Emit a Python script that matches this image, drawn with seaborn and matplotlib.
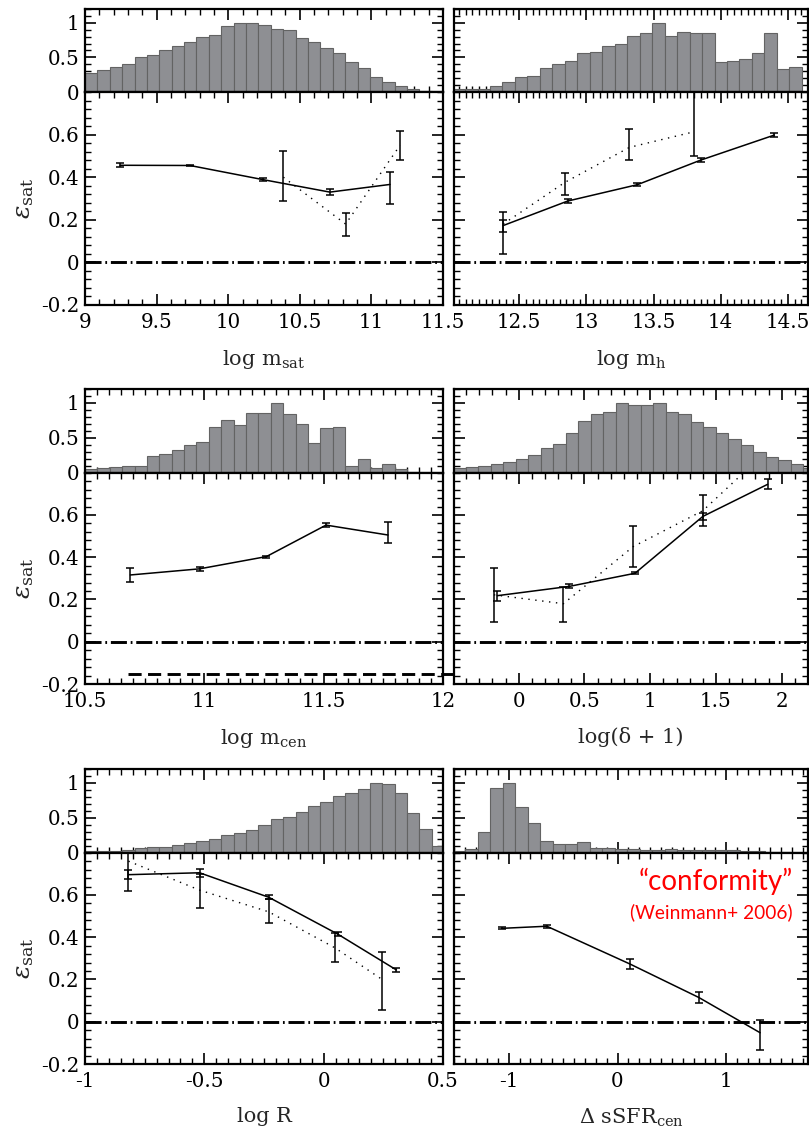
import numpy as np
import pandas as pd
import matplotlib
matplotlib.use('Agg')
import matplotlib.pyplot as plt
from matplotlib.ticker import MultipleLocator, FixedLocator, FuncFormatter
import seaborn as sns

# -------------------------------------------------------------------------
# DATA
# -------------------------------------------------------------------------
# panel 1: log m_sat
msat_bin_start, msat_bin_width = 9.0, 0.0865
msat_hist = [0.275, 0.32, 0.36, 0.40, 0.51, 0.54, 0.60, 0.66, 0.72, 0.79, 0.83, 0.95, 1.0, 1.0,
             0.97, 0.91, 0.89, 0.78, 0.72, 0.64, 0.56, 0.43, 0.35, 0.21, 0.145, 0.08, 0.04, 0.02]
msat_x = [9.245, 9.733, 10.24, 10.71, 11.13]
msat_y = [0.456, 0.455, 0.389, 0.330, 0.366]
msat_lo = [0.446, 0.451, 0.383, 0.315, 0.275]
msat_hi = [0.466, 0.459, 0.395, 0.345, 0.425]
msat_dot_x = [10.385, 10.82, 11.2]
msat_dot_y = [0.40, 0.18, 0.55]
msat_dot_lo = [0.29, 0.125, 0.48]
msat_dot_hi = [0.525, 0.23, 0.615]

# panel 2: log m_h
mh_bin_start, mh_bin_width = 12.003, 0.0929
mh_hist = [0.04, 0.05, 0.05, 0.08, 0.14, 0.22, 0.23, 0.34, 0.41, 0.45, 0.56, 0.58, 0.66, 0.69,
           0.81, 0.86, 1.0, 0.81, 0.87, 0.85, 0.85, 0.44, 0.45, 0.48, 0.57, 0.86, 0.33, 0.36]
mh_x = [12.38, 12.86, 13.38, 13.85, 14.40]
mh_y = [0.173, 0.288, 0.365, 0.48, 0.598]
mh_lo = [0.142, 0.278, 0.357, 0.47, 0.59]
mh_hi = [0.197, 0.298, 0.373, 0.49, 0.606]
mh_dot_x = [12.38, 12.84, 13.32, 13.80]
mh_dot_y = [0.18, 0.376, 0.54, 0.613]
mh_dot_lo = [0.04, 0.315, 0.48, 0.50]
mh_dot_hi = [0.235, 0.42, 0.625, 0.85]

# panel 3: log m_cen
mcen_bin_start, mcen_bin_width = 10.5, 0.0519
mcen_hist = [0.06, 0.07, 0.075, 0.1, 0.1, 0.24, 0.27, 0.32, 0.39, 0.44, 0.65, 0.76, 0.69, 0.85,
             0.86, 1.0, 0.84, 0.70, 0.43, 0.645, 0.66, 0.095, 0.19, 0.07, 0.13, 0.05, 0.01]
mcen_x = [10.69, 10.98, 11.26, 11.51, 11.77]
mcen_y = [0.316, 0.345, 0.403, 0.552, 0.505]
mcen_lo = [0.281, 0.335, 0.398, 0.542, 0.467]
mcen_hi = [0.348, 0.355, 0.408, 0.562, 0.568]
mcen_ref_x = [10.68, 12.1]
mcen_ref_y = [-0.155, -0.155]

# panel 4: log(delta + 1)
dens_bin_start, dens_bin_width = -0.496, 0.095
dens_hist = [0.07, 0.085, 0.1, 0.12, 0.155, 0.2, 0.25, 0.35, 0.41, 0.57, 0.74, 0.84, 0.87, 1.0,
             0.97, 0.97, 1.0, 0.87, 0.84, 0.73, 0.66, 0.57, 0.48, 0.39, 0.29, 0.22, 0.18, 0.12, 0.07]
dens_x = [-0.163, 0.385, 0.884, 1.40, 1.893]
dens_y = [0.218, 0.262, 0.324, 0.593, 0.745]
dens_lo = [0.191, 0.252, 0.319, 0.578, 0.722]
dens_hi = [0.238, 0.272, 0.329, 0.608, 0.768]
dens_dot_x = [-0.189, 0.34, 0.87, 1.40, 1.90]
dens_dot_y = [0.222, 0.18, 0.45, 0.62, 0.91]
dens_dot_lo = [0.095, 0.095, 0.356, 0.548, 0.85]
dens_dot_hi = [0.348, 0.257, 0.548, 0.694, 0.97]

# panel 5: log R
rad_bin_start, rad_bin_width = -1.0, 0.0519
rad_hist = [0.03, 0.03, 0.03, 0.04, 0.066, 0.076, 0.085, 0.11, 0.14, 0.165, 0.19, 0.25, 0.28, 0.32,
            0.40, 0.48, 0.51, 0.59, 0.67, 0.73, 0.81, 0.86, 0.91, 1.0, 0.98, 0.86, 0.57, 0.34, 0.095]
rad_x = [-0.818, -0.52, -0.23, 0.06, 0.305]
rad_y = [0.696, 0.705, 0.589, 0.414, 0.245]
rad_lo = [0.675, 0.685, 0.579, 0.404, 0.235]
rad_hi = [0.717, 0.725, 0.599, 0.424, 0.255]
rad_dot_x = [-0.818, -0.52, -0.23, 0.047, 0.245]
rad_dot_y = [0.76, 0.623, 0.52, 0.35, 0.20]
rad_dot_lo = [0.62, 0.54, 0.465, 0.284, 0.055]
rad_dot_hi = [0.80, 0.70, 0.583, 0.418, 0.331]

# panel 6: Delta sSFR_cen
ssfr_bin_start, ssfr_bin_width = -1.515, 0.1147
ssfr_hist = [0.03, 0.05, 0.29, 0.93, 1.0, 0.66, 0.43, 0.17, 0.12, 0.12, 0.15, 0.07, 0.066, 0.057,
             0.047, 0.038, 0.043, 0.047, 0.033, 0.043, 0.033, 0.038, 0.033, 0.028, 0.02, 0.014, 0.01]
ssfr_x = [-1.064, -0.65, 0.115, 0.746, 1.31]
ssfr_y = [0.442, 0.452, 0.273, 0.115, -0.052]
ssfr_lo = [0.437, 0.444, 0.25, 0.088, -0.134]
ssfr_hi = [0.447, 0.460, 0.297, 0.142, 0.008]

# -------------------------------------------------------------------------
# STYLE
# -------------------------------------------------------------------------
sns.set_style('ticks')
plt.rcParams['font.family'] = ['DejaVu Serif']
plt.rcParams['mathtext.fontset'] = 'dejavuserif'
plt.rcParams['axes.unicode_minus'] = False
plt.rcParams['axes.linewidth'] = 1.6
plt.rcParams['axes.edgecolor'] = 'black'

HIST_FACE = '#8e8f93'
HIST_EDGE = '#636363'
FS = 14.3       # tick labels
FS_LABEL = 15.0  # axis labels

W, H = 809, 1131
fig = plt.figure(figsize=(W / 100, H / 100), dpi=100)


def px_axes(x0, x1, y0, y1):
    return fig.add_axes([x0 / W, 1 - y1 / H, (x1 - x0) / W, (y1 - y0) / H])


def fmt(v, pos):
    if abs(v) < 1e-9:
        return '0'
    return '%g' % round(v, 3)


def style_ticks(a, left_labels):
    a.tick_params(which='both', direction='in', top=True, bottom=True, left=True, right=True,
                  labelsize=FS, colors='black')
    a.tick_params(which='major', length=8, width=1.2, pad=6)
    a.tick_params(which='minor', length=4, width=1.0)
    a.tick_params(axis='y', pad=4, labelleft=left_labels)
    a.xaxis.set_major_formatter(FuncFormatter(fmt))
    a.yaxis.set_major_formatter(FuncFormatter(fmt))


def panel(cols, rows, xlim, xmajor, xminor, bin_start, bin_width, hist,
          x, y, lo, hi, dx=None, dy=None, dlo=None, dhi=None, xlabel='', left=True):
    hax = px_axes(cols[0], cols[1], rows[0], rows[1])
    ax = px_axes(cols[0], cols[1], rows[1], rows[2])

    # normalised histogram on top
    edges = bin_start + bin_width * np.arange(len(hist) + 1)
    hist_df = pd.DataFrame({'center': edges[:-1] + bin_width / 2, 'height': hist})
    sns.histplot(data=hist_df, x='center', weights='height', bins=list(edges), ax=hax,
                 color=HIST_FACE, edgecolor=HIST_EDGE, linewidth=0.8, alpha=1)
    hax.set_xlim(xlim)
    hax.set_ylim(0, 1.2)
    hax.set_xlabel('')
    hax.set_ylabel('')
    hax.xaxis.set_major_locator(MultipleLocator(xmajor))
    hax.xaxis.set_minor_locator(MultipleLocator(xminor))
    hax.yaxis.set_major_locator(FixedLocator([0, 0.5, 1]))
    hax.yaxis.set_minor_locator(MultipleLocator(0.1))
    style_ticks(hax, left)
    hax.tick_params(labelbottom=False)

    # zero reference line
    ax.axhline(0, color='black', lw=2.1, dashes=(5.5, 1.3, 0.6, 1.3), zorder=1)

    x, y, lo, hi = map(np.asarray, (x, y, lo, hi))
    sns.lineplot(x=x, y=y, ax=ax, color='black', lw=1.1, sort=False)
    ax.errorbar(x, y, yerr=[y - lo, hi - y], fmt='none', ecolor='black',
                elinewidth=1.1, capsize=2.8, capthick=1.1)
    if dx is not None:
        dx, dy, dlo, dhi = map(np.asarray, (dx, dy, dlo, dhi))
        sns.lineplot(x=dx, y=dy, ax=ax, color='black', lw=1.0, sort=False,
                     linestyle=(0, (1, 4)))
        ax.errorbar(dx, dy, yerr=[dy - dlo, dhi - dy], fmt='none', ecolor='black',
                    elinewidth=1.1, capsize=2.8, capthick=1.1)

    ax.set_xlim(xlim)
    ax.set_ylim(-0.2, 0.8)
    ax.xaxis.set_major_locator(MultipleLocator(xmajor))
    ax.xaxis.set_minor_locator(MultipleLocator(xminor))
    ax.yaxis.set_major_locator(FixedLocator([-0.2, 0, 0.2, 0.4, 0.6]))
    ax.yaxis.set_minor_locator(MultipleLocator(0.04))
    style_ticks(ax, left)
    ax.set_xlabel(xlabel, fontsize=FS_LABEL, labelpad=11)
    ax.set_ylabel(r'$\varepsilon_{\rm sat}$' if left else '', fontsize=18, labelpad=4)
    return hax, ax


LEFT = (85, 443)
RIGHT = (454.3, 808)
ROW1 = (9, 92, 305)
ROW2 = (389, 472.7, 684)
ROW3 = (769, 852.7, 1064)

panel(LEFT, ROW1, (9, 11.5), 0.5, 0.1, msat_bin_start, msat_bin_width, msat_hist,
      msat_x, msat_y, msat_lo, msat_hi, msat_dot_x, msat_dot_y, msat_dot_lo, msat_dot_hi,
      xlabel=r'log m$_{\rm sat}$', left=True)

panel(RIGHT, ROW1, (12.016, 14.65), 0.5, 0.05, mh_bin_start, mh_bin_width, mh_hist,
      mh_x, mh_y, mh_lo, mh_hi, mh_dot_x, mh_dot_y, mh_dot_lo, mh_dot_hi,
      xlabel=r'log m$_{\rm h}$', left=False)

_, ax_cen = panel(LEFT, ROW2, (10.5, 12), 0.5, 0.05, mcen_bin_start, mcen_bin_width, mcen_hist,
                  mcen_x, mcen_y, mcen_lo, mcen_hi,
                  xlabel=r'log m$_{\rm cen}$', left=True)
ax_cen.plot(mcen_ref_x, mcen_ref_y, color='black', lw=2.1, dashes=(4.5, 2.2), clip_on=False)

panel(RIGHT, ROW2, (-0.49, 2.2), 0.5, 0.1, dens_bin_start, dens_bin_width, dens_hist,
      dens_x, dens_y, dens_lo, dens_hi, dens_dot_x, dens_dot_y, dens_dot_lo, dens_dot_hi,
      xlabel='log(δ + 1)', left=False)

panel(LEFT, ROW3, (-1, 0.5), 0.5, 0.05, rad_bin_start, rad_bin_width, rad_hist,
      rad_x, rad_y, rad_lo, rad_hi, rad_dot_x, rad_dot_y, rad_dot_lo, rad_dot_hi,
      xlabel='log R', left=True)

_, ax_sfr = panel(RIGHT, ROW3, (-1.5, 1.75), 1.0, 0.1, ssfr_bin_start, ssfr_bin_width, ssfr_hist,
                  ssfr_x, ssfr_y, ssfr_lo, ssfr_hi,
                  xlabel=r'Δ sSFR$_{\rm cen}$', left=False)

ax_sfr.text(0.957, 0.863, '\u201cconformity\u201d', transform=ax_sfr.transAxes,
            ha='right', va='center', color='red', fontsize=20, family=['Lato', 'DejaVu Sans'])
ax_sfr.text(0.957, 0.718, '(Weinmann+ 2006)', transform=ax_sfr.transAxes,
            ha='right', va='center', color='red', fontsize=13.8, family=['Lato', 'DejaVu Sans'])

fig.savefig('out.png', dpi=100)
